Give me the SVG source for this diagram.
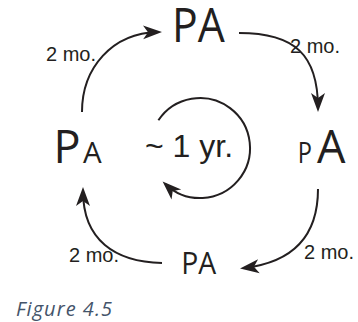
<svg xmlns="http://www.w3.org/2000/svg" width="358" height="322" viewBox="0 0 358 322">
<style>
.big{font-family:"Open Sans","Noto Sans",sans-serif;fill:#231f20}
.lbl{font-family:"Liberation Sans",Arial,sans-serif;font-size:20px;fill:#231f20}
.cyc{font-family:"Liberation Sans",Arial,sans-serif;font-size:32px;fill:#231f20}
.cap{font-family:"Open Sans","Noto Sans",sans-serif;font-style:italic;font-size:20px;fill:#44546a}
.edge{fill:none;stroke:#231f20;stroke-width:2}
</style>
<defs>
<marker id="ah" markerUnits="userSpaceOnUse" viewBox="0 0 20 16" markerWidth="20" markerHeight="16" refX="15" refY="8" orient="auto">
<path d="M0,1 L19,8 L0,15 L5,8 Z" fill="#231f20"/>
</marker>
</defs>
<rect width="358" height="322" fill="#ffffff"/>
<g id="connectors">
<path class="edge" d="M82,112 C82,68 112,33 158,32" marker-end="url(#ah)"/>
<path class="edge" d="M239,33 C295,33 318,55 318,108" marker-end="url(#ah)"/>
<path class="edge" d="M318,189 C318,235 295,262 244,268" marker-end="url(#ah)"/>
<path class="edge" d="M162,263 C115,262 83,240 83,191" marker-end="url(#ah)"/>
<path class="edge" d="M158.4,120.3 A50,50 0 1 1 165.5,184.2" marker-end="url(#ah)"/>
</g>
<g id="node-top">
<text class="big" transform="translate(172,42) scale(0.91,1)" x="0" y="0" font-size="47">PA</text>
</g>
<g id="node-right">
<text class="big" transform="translate(297.7,163) scale(0.8,1)" x="0" y="0" font-size="29.5">P</text>
<text class="big" x="317" y="163" font-size="45">A</text>
</g>
<g id="node-bottom">
<text class="big" transform="translate(181.2,273.5) scale(0.9,1)" x="0" y="0" font-size="31.5">PA</text>
</g>
<g id="node-left">
<text class="big" x="53.6" y="163" font-size="45">P</text>
<text class="big" x="83" y="163" font-size="29.5">A</text>
</g>
<g id="labels">
<text class="lbl" x="46" y="61">2 mo.</text>
<text class="lbl" x="290" y="53">2 mo.</text>
<text class="lbl" x="304" y="259">2 mo.</text>
<text class="lbl" x="69" y="262">2 mo.</text>
<text class="cyc" x="145" y="157">~ 1 yr.</text>
</g>
<text class="cap" x="16" y="316" textLength="96">Figure 4.5</text>
</svg>
